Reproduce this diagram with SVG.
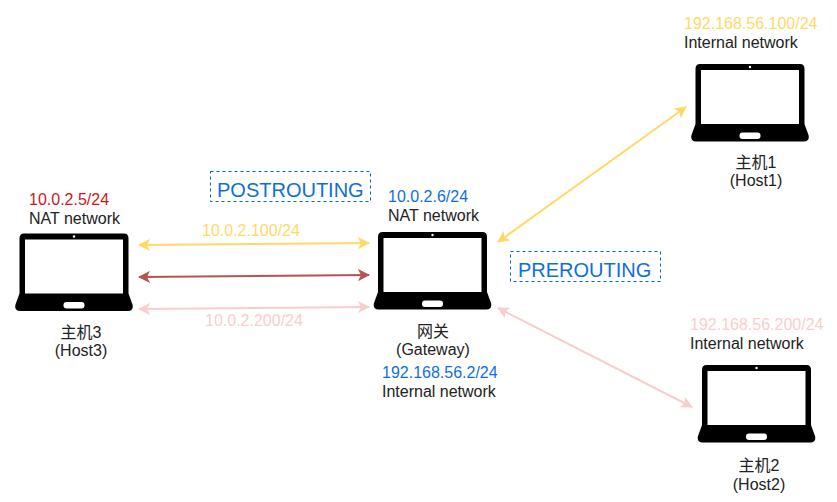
<svg xmlns="http://www.w3.org/2000/svg" width="837" height="502" viewBox="0 0 837 502">
<style>
text{font-family:"Liberation Sans","Noto Sans CJK SC",sans-serif;font-size:16px;fill:#222}
.c{text-anchor:middle}
.y{fill:#ffd966}.p{fill:#f8cecc}.b{fill:#0f6fd8}.r{fill:#d2141c}
.big{font-size:20px;fill:#0f6fd8}
.box{fill:none;stroke:#0066cc;stroke-width:1;stroke-dasharray:3 3}
.l{fill:none;stroke-width:2}
</style>
<defs>
<symbol id="laptop" width="118" height="78" viewBox="0 0 118 78" overflow="visible">
<path d="M9 0H109Q113.500 0 113.500 5V60L117.500 71Q119 77 113 77.500H5Q-1 77 0.500 71L4.500 60V5Q4.500 0 9 0Z" fill="#000"/>
<rect x="10" y="6" width="98" height="54" fill="#fff"/>
<circle cx="59" cy="3" r="1.200" fill="#fff"/>
<rect x="48.500" y="68.500" width="21" height="6.500" rx="3" fill="#fff"/>
</symbol>
<marker id="ay" viewBox="0 0 12 12" refX="11" refY="6" markerWidth="12" markerHeight="12" markerUnits="userSpaceOnUse" orient="auto-start-reverse"><path d="M0 0L12 6L0 12L3 6Z" fill="#ffd966"/></marker>
<marker id="ar" viewBox="0 0 12 12" refX="11" refY="6" markerWidth="12" markerHeight="12" markerUnits="userSpaceOnUse" orient="auto-start-reverse"><path d="M0 0L12 6L0 12L3 6Z" fill="#b85450"/></marker>
<marker id="ap" viewBox="0 0 12 12" refX="11" refY="6" markerWidth="12" markerHeight="12" markerUnits="userSpaceOnUse" orient="auto-start-reverse"><path d="M0 0L12 6L0 12L3 6Z" fill="#f8cecc"/></marker>
</defs>
<rect width="837" height="502" fill="#fff"/>
<g id="connectors">
<path class="l" d="M139 245L369 243" stroke="#ffd966" marker-start="url(#ay)" marker-end="url(#ay)"/>
<path class="l" d="M139 277L369 275" stroke="#b85450" marker-start="url(#ar)" marker-end="url(#ar)"/>
<path class="l" d="M139 309L369 307" stroke="#f8cecc" marker-start="url(#ap)" marker-end="url(#ap)"/>
<path class="l" d="M498 242L686 107" stroke="#ffd966" marker-start="url(#ay)" marker-end="url(#ay)"/>
<path class="l" d="M498 308L692 407" stroke="#f8cecc" marker-start="url(#ap)" marker-end="url(#ap)"/>
<text class="y" x="202" y="236">10.0.2.100/24</text>
<text class="p" x="205" y="326">10.0.2.200/24</text>
</g>
<g id="postrouting"><rect class="box" x="210.500" y="171.500" width="160" height="30"/><text class="big" x="217" y="197">POSTROUTING</text></g>
<g id="prerouting"><rect class="box" x="510.500" y="251.500" width="150" height="30"/><text class="big" x="518" y="276.500">PREROUTING</text></g>
<g id="host3"><use href="#laptop" x="15" y="233.500"/>
<text class="r" x="29" y="205">10.0.2.5/24</text><text x="29" y="224">NAT network</text>
<text class="c" x="81" y="338">主机3</text><text class="c" x="81" y="356">(Host3)</text></g>
<g id="gateway"><use href="#laptop" x="373.500" y="232"/>
<text class="b" x="388" y="202">10.0.2.6/24</text><text x="388" y="221">NAT network</text>
<text class="c" x="433" y="337">网关</text><text class="c" x="433" y="355">(Gateway)</text>
<text class="b" x="382" y="378">192.168.56.2/24</text><text x="382" y="397">Internal network</text></g>
<g id="host1"><use href="#laptop" x="691" y="64"/>
<text class="y" x="684" y="29">192.168.56.100/24</text><text x="684" y="48">Internal network</text>
<text class="c" x="756" y="168">主机1</text><text class="c" x="756" y="186">(Host1)</text></g>
<g id="host2"><use href="#laptop" x="697.500" y="365"/>
<text class="p" x="690" y="330">192.168.56.200/24</text><text x="690" y="349">Internal network</text>
<text class="c" x="759" y="471">主机2</text><text class="c" x="759" y="490">(Host2)</text></g>
</svg>
